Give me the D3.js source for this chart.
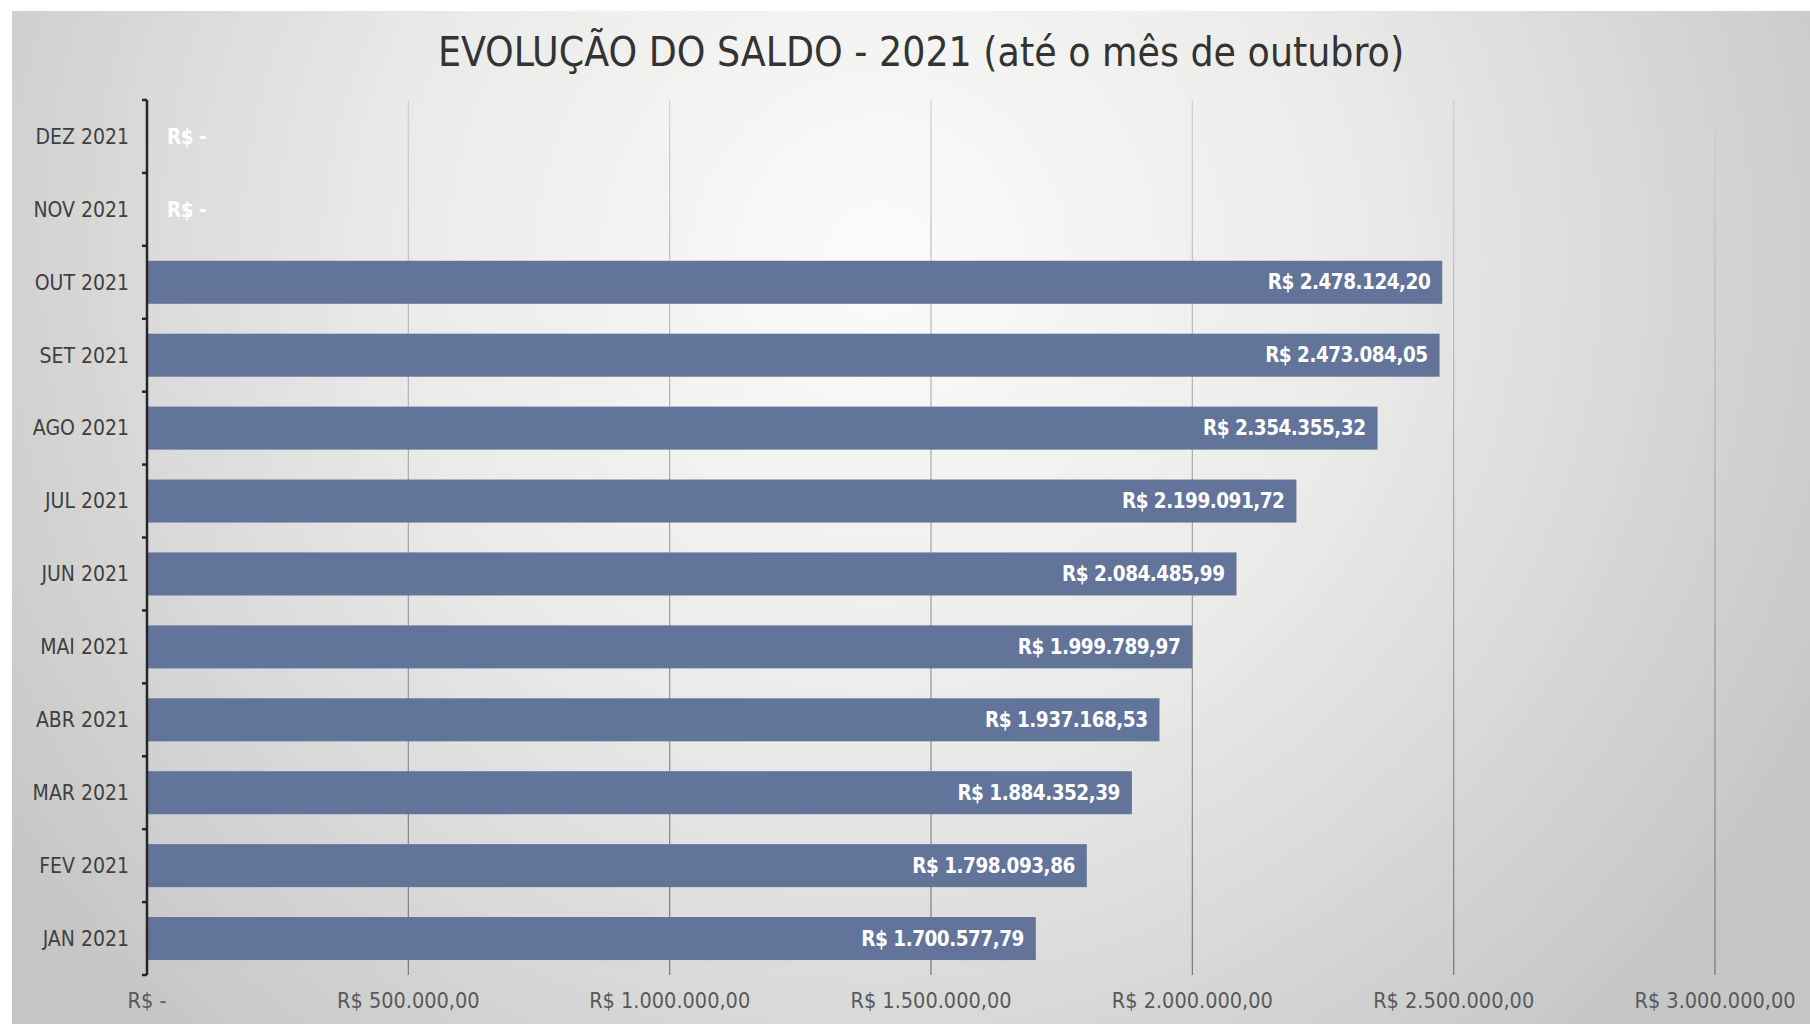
<!DOCTYPE html>
<html>
<head>
<meta charset="utf-8">
<script src="https://cdn.jsdelivr.net/npm/d3@7"></script>
<style>
  html, body { margin: 0; padding: 0; background: #ffffff; }
  svg { display: block; }
</style>
</head>
<body>
<svg id="chart" width="1810" height="1024"></svg>
<script>
// ---- data ----
const titleText = "EVOLUÇÃO DO SALDO - 2021 (até o mês de outubro)";
const categories = ["DEZ 2021", "NOV 2021", "OUT 2021", "SET 2021", "AGO 2021", "JUL 2021",
                    "JUN 2021", "MAI 2021", "ABR 2021", "MAR 2021", "FEV 2021", "JAN 2021"];
const saldo = [0, 0, 2478124.20, 2473084.05, 2354355.32, 2199091.72,
               2084485.99, 1999789.97, 1937168.53, 1884352.39, 1798093.86, 1700577.79];
const xTickValues = [0, 500000, 1000000, 1500000, 2000000, 2500000, 3000000];
const xTickLabels = ["R$ -", "R$ 500.000,00", "R$ 1.000.000,00", "R$ 1.500.000,00",
                     "R$ 2.000.000,00", "R$ 2.500.000,00", "R$ 3.000.000,00"];

const data = categories.map((c, i) => ({ cat: c, v: saldo[i] }));

const FONT = "'Liberation Sans Narrow', 'DejaVu Sans Condensed', 'Liberation Sans', sans-serif";
const br = d3.formatLocale({ decimal: ",", thousands: ".", grouping: [3], currency: ["R$ ", ""] });
const fmt = v => v === 0 ? "R$ -" : br.format("$,.2f")(v);

const svg = d3.select("#chart");
const W = 1810, H = 1024;

// ---- background ----
const defs = svg.append("defs");
const rg = defs.append("radialGradient").attr("id", "bg")
  .attr("gradientUnits", "userSpaceOnUse")
  .attr("cx", 880).attr("cy", 260).attr("r", 1050);
rg.append("stop").attr("offset", "0%").attr("stop-color", "#fbfbfa");
rg.append("stop").attr("offset", "45%").attr("stop-color", "#ebebea");
rg.append("stop").attr("offset", "100%").attr("stop-color", "#c6c6c6");

const lg = defs.append("linearGradient").attr("id", "grid")
  .attr("gradientUnits", "userSpaceOnUse")
  .attr("x1", 0).attr("y1", 100).attr("x2", 0).attr("y2", 975);
lg.append("stop").attr("offset", "0%").attr("stop-color", "#d0d0d0");
lg.append("stop").attr("offset", "100%").attr("stop-color", "#767676");

svg.append("rect").attr("x", 12).attr("y", 11).attr("width", W - 12).attr("height", H - 11)
  .attr("fill", "url(#bg)");

// ---- scales ----
const x = d3.scaleLinear().domain([0, 3000000]).range([147, 1715]);
const y = d3.scaleBand().domain(categories).range([100, 975]).paddingInner(0.41).paddingOuter(0.205);
const yStep = d3.scaleBand().domain(categories).range([100, 975]);

// ---- gridlines ----
svg.append("g").selectAll("line").data(xTickValues.slice(1)).join("line")
  .attr("x1", d => x(d)).attr("x2", d => x(d))
  .attr("y1", 100).attr("y2", 975)
  .attr("stroke", "url(#grid)").attr("stroke-width", 1.2);

// ---- bars ----
svg.append("g").selectAll("rect").data(data).join("rect")
  .attr("x", x(0) + 1)
  .attr("y", d => y(d.cat))
  .attr("width", d => Math.max(0, x(d.v) - x(0) - 1))
  .attr("height", y.bandwidth())
  .attr("fill", "#63749b");

// ---- data labels ----
svg.append("g").selectAll("text").data(data).join("text")
  .attr("x", d => d.v === 0 ? x(0) + 20 : x(d.v) - 12)
  .attr("y", d => y(d.cat) + y.bandwidth() / 2)
  .attr("dy", "0.35em")
  .attr("text-anchor", d => d.v === 0 ? "start" : "end")
  .attr("fill", "#ffffff")
  .attr("font-family", FONT)
  .attr("font-weight", "bold")
  .attr("font-size", 20.5)
  .attr("letter-spacing", -0.5)
  .text(d => fmt(d.v));

// ---- y axis ----
const yAxis = svg.append("g").attr("transform", `translate(${x(0)},0)`);
yAxis.append("line").attr("x1", 0).attr("x2", 0).attr("y1", 100).attr("y2", 975)
  .attr("stroke", "#262626").attr("stroke-width", 2.5);
yAxis.selectAll("line.tick").data(categories.concat(["__end"])).join("line")
  .attr("class", "tick")
  .attr("x1", -5).attr("x2", 0)
  .attr("y1", (d, i) => i < categories.length ? yStep(d) : 975)
  .attr("y2", (d, i) => i < categories.length ? yStep(d) : 975)
  .attr("stroke", "#262626").attr("stroke-width", 2.5);
yAxis.selectAll("text").data(categories).join("text")
  .attr("x", -18)
  .attr("y", d => yStep(d) + yStep.bandwidth() / 2)
  .attr("dy", "0.35em")
  .attr("text-anchor", "end")
  .attr("fill", "#404040")
  .attr("font-family", FONT)
  .attr("font-size", 21)
  .text(d => d);

// ---- x axis labels ----
svg.append("g").selectAll("text").data(xTickValues).join("text")
  .attr("x", d => x(d))
  .attr("y", 1000)
  .attr("dy", "0.35em")
  .attr("text-anchor", "middle")
  .attr("fill", "#595959")
  .attr("font-family", FONT)
  .attr("font-size", 21.5)
  .text((d, i) => xTickLabels[i]);

// ---- title ----
svg.append("text")
  .attr("x", 921).attr("y", 66)
  .attr("text-anchor", "middle")
  .attr("fill", "#333333")
  .attr("font-family", FONT)
  .attr("font-size", 40.5)
  .text(titleText);
</script>
</body>
</html>
